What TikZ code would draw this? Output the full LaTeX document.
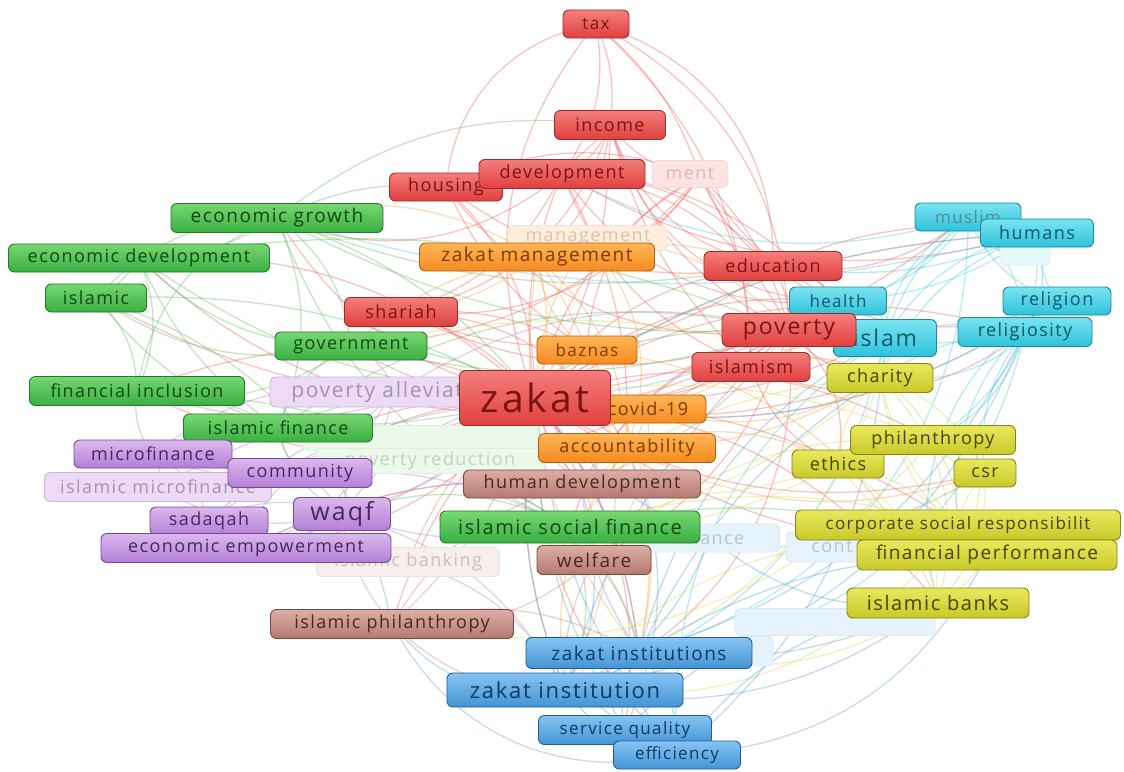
\documentclass[tikz,border=0pt]{standalone}
\usepackage{fontspec}
\setmainfont{Open Sans}[LetterSpace=8]
\definecolor{rT}{HTML}{F47E7C}\definecolor{rB}{HTML}{E0403F}\definecolor{rD}{HTML}{9E2A2A}\definecolor{rX}{HTML}{7A1414}
\definecolor{oT}{HTML}{FFB656}\definecolor{oB}{HTML}{F58A1F}\definecolor{oD}{HTML}{B0600F}\definecolor{oX}{HTML}{7A3A00}
\definecolor{cT}{HTML}{7AE4F2}\definecolor{cB}{HTML}{2EC2DA}\definecolor{cD}{HTML}{1A889E}\definecolor{cX}{HTML}{0E5868}
\definecolor{yT}{HTML}{E8E85E}\definecolor{yB}{HTML}{C9C92A}\definecolor{yD}{HTML}{858510}\definecolor{yX}{HTML}{454500}
\definecolor{gT}{HTML}{76D870}\definecolor{gB}{HTML}{3AAE42}\definecolor{gD}{HTML}{24782A}\definecolor{gX}{HTML}{0E4812}
\definecolor{pT}{HTML}{DCB8EE}\definecolor{pB}{HTML}{B47ED6}\definecolor{pD}{HTML}{784898}\definecolor{pX}{HTML}{46285E}
\definecolor{bT}{HTML}{DCAEA6}\definecolor{bB}{HTML}{B67A6E}\definecolor{bD}{HTML}{784840}\definecolor{bX}{HTML}{4A2822}
\definecolor{lT}{HTML}{86C4F2}\definecolor{lB}{HTML}{4494D4}\definecolor{lD}{HTML}{1E5C94}\definecolor{lX}{HTML}{0E3866}
\definecolor{eR}{HTML}{EE5A5A}\definecolor{eO}{HTML}{F7A040}\definecolor{eC}{HTML}{40C8E0}\definecolor{eY}{HTML}{D8D850}
\definecolor{eG}{HTML}{5AB85A}\definecolor{eP}{HTML}{B080D0}\definecolor{eB}{HTML}{C08878}\definecolor{eL}{HTML}{5A9CD8}
\newcommand\kw[8]{\node[#1, minimum width=#5pt, minimum height=#6pt, font=\fontsize{#7pt}{#7pt}\selectfont] (#2) at (#3,#4) {#8};}
\tikzset{
 kw/.style={rounded corners=6pt, draw, line width=0.9pt, inner sep=0pt, align=center},
 cR/.style={kw, top color=rT, bottom color=rB, draw=rD, text=rX},
 cO/.style={kw, top color=oT, bottom color=oB, draw=oD, text=oX},
 cC/.style={kw, top color=cT, bottom color=cB, draw=cD, text=cX},
 cY/.style={kw, top color=yT, bottom color=yB, draw=yD, text=yX},
 cG/.style={kw, top color=gT, bottom color=gB, draw=gD, text=gX},
 cP/.style={kw, top color=pT, bottom color=pB, draw=pD, text=pX},
 cBr/.style={kw, top color=bT, bottom color=bB, draw=bD, text=bX},
 cL/.style={kw, top color=lT, bottom color=lB, draw=lD, text=lX},
 fR/.style={kw, fill=rT!22, draw=rD!18, text=rX!30},
 fO/.style={kw, fill=oT!22, draw=oD!18, text=oX!30},
 fC/.style={kw, fill=cT!20, draw=cD!15, text=cX!30},
 fG/.style={kw, fill=gT!15, draw=gD!13, text=gX!25},
 fP/.style={kw, fill=pT!50, draw=pD!40, text=pX!50},
 fL/.style={kw, fill=lT!20, draw=lD!15, text=lX!30},
 fBr/.style={kw, fill=bT!20, draw=bD!15, text=bX!30},
 ed/.style={line width=1.3pt, draw opacity=0.36}
}
\begin{document}
\begin{tikzpicture}[x=1pt,y=-1pt]
\path[use as bounding box, fill=white] (0,0) rectangle (1124,771);
\begin{scope}[every node/.style={inner sep=0pt, minimum size=0pt}]
\node (tax) at (596,24) {}; \node (inc) at (610,125) {}; \node (hou) at (446,187) {};
\node (dev) at (562,174) {}; \node (mnt) at (700,176) {}; \node (edu) at (773,266) {};
\node (sha) at (401,312) {}; \node (pov) at (789,330) {}; \node (ism) at (751,367) {};
\node (zak) at (535,398) {}; \node (zm) at (537,257) {}; \node (mgt) at (588,239) {};
\node (baz) at (587,350) {}; \node (cov) at (648,409) {}; \node (acc) at (627,448) {};
\node (mus) at (968,217) {}; \node (hum) at (1037,233) {}; \node (hea) at (838,301) {};
\node (rel) at (1057,301) {}; \node (isl) at (885,338) {}; \node (rly) at (1025,332) {};
\node (cha) at (880,378) {}; \node (phi) at (933,440) {}; \node (eth) at (838,464) {};
\node (csr) at (985,473) {}; \node (crp) at (958,525) {}; \node (fp) at (987,555) {};
\node (ib) at (938,603) {}; \node (eg) at (277,218) {}; \node (edv) at (139,258) {};
\node (ic) at (96,298) {}; \node (gov) at (351,346) {}; \node (fi) at (137,391) {};
\node (ifn) at (278,428) {}; \node (isf) at (570,527) {}; \node (pa) at (395,392) {};
\node (mf) at (153,454) {}; \node (com) at (300,473) {}; \node (imf) at (158,487) {};
\node (sad) at (209,521) {}; \node (waq) at (342,514) {}; \node (ee) at (246,548) {};
\node (hd) at (582,484) {}; \node (wel) at (594,560) {}; \node (iph) at (392,624) {};
\node (zis) at (639,653) {}; \node (zin) at (565,690) {}; \node (sq) at (625,730) {};
\node (eff) at (677,755) {}; \node (prd) at (430,461) {}; \node (ibk) at (408,562) {};
\node (fin) at (710,538) {};
\end{scope}
% ---------- edges ----------
\foreach \a/\b/\c [evaluate=\c as \cc using 1.5*\c] in {tax/inc/10, tax/dev/15, tax/zak/-20, tax/pov/20, tax/edu/25, tax/hou/-25, tax/ism/15, tax/mnt/10,
 inc/zak/10, inc/pov/-15, inc/edu/-20, inc/dev/15, inc/sha/20, inc/ism/-10, inc/hou/20, inc/zm/15, inc/hea/-25,
 dev/zak/-10, dev/pov/20, dev/edu/15, dev/ism/-15, dev/sha/15, dev/eg/20, dev/hea/-20, dev/hum/-15, dev/acc/10,
 hou/zak/15, hou/pov/-20, hou/edu/-15, hou/hea/20, hou/baz/-10,
 edu/zak/-15, edu/pov/10, edu/hea/15, edu/mus/-15, edu/hum/10, edu/rel/-20, edu/sha/20,
 sha/zak/10, sha/pov/-15, sha/acc/20, sha/baz/10,
 pov/zak/15, pov/isl/10, pov/cha/-15, pov/eth/20, pov/wel/15, pov/hd/-15, pov/fi/20, pov/edv/25, pov/isf/-20, pov/zin/25,
 zak/gov/10, zak/fi/-15, zak/ifn/10, zak/mf/15, zak/com/-10, zak/waq/10, zak/sad/-15, zak/ee/15, zak/iph/-10, zak/zis/10,
 zak/zin/-10, zak/sq/15, zak/eff/-15, zak/wel/10, zak/hd/-10, zak/acc/10, zak/cha/-10, zak/phi/15, zak/csr/-15, zak/crp/10,
 zak/fp/-10, zak/ib/15, zak/isl/-10, zak/rly/15, zak/rel/-15, zak/hum/10, zak/mus/-10, zak/eg/15, zak/edv/-15, zak/ic/10, zak/hea/15,
 ism/zak/10, ism/cha/15, ism/eth/-15, ism/isl/10, ism/rly/-20,
 mnt/zak/-15, mnt/pov/10, mnt/edu/-10, mnt/inc/15, mnt/sha/20, mnt/hou/-15, mnt/ism/10, mnt/hea/-10, mnt/zm/20, mnt/baz/-20, mnt/gov/15}
 \draw[ed, draw=eR, bend left=\cc] (\a.center) to (\b.center);
\foreach \a/\b/\c [evaluate=\c as \cc using 1.5*\c] in {zm/zak/10, zm/baz/-15, zm/acc/15, zm/edu/10, zm/gov/-10, zm/zin/20, zm/sha/10, zm/zis/-15,
 mgt/zak/-10, mgt/pov/15, mgt/acc/20, baz/zis/15, baz/zak/10, acc/cha/-10, acc/eth/15, acc/csr/-15, acc/zis/10, acc/zin/-15,
 cov/pov/-10, cov/wel/15, cov/cha/-15, cov/isf/10, acc/hd/15, zm/eg/-15, baz/ib/20}
 \draw[ed, draw=eO, bend left=\cc] (\a.center) to (\b.center);
\foreach \a/\b/\c [evaluate=\c as \cc using 1.5*\c] in {mus/hum/10, mus/rel/-15, mus/rly/15, mus/isl/-10, mus/hea/15, mus/cha/-20, mus/dev/15, mus/zis/25,
 hum/rel/-10, hum/rly/15, hum/isl/-15, hum/hea/10, hum/cha/-15, hum/phi/20, hum/zak/-10, hum/edu/10,
 isl/rly/10, isl/rel/-15, isl/cha/10, isl/zin/20, isl/eff/-20, rly/cha/-10, rly/phi/15, rly/csr/-15, rly/zis/25,
 hea/zak/10, hea/pov/-15, rel/cha/20, rel/crp/-20, rel/zak/15, mus/pov/10, hum/eg/10, rel/ib/-25}
 \draw[ed, draw=eC, bend left=\cc] (\a.center) to (\b.center);
\foreach \a/\b/\c [evaluate=\c as \cc using 1.5*\c] in {cha/phi/10, cha/eth/-15, cha/csr/15, cha/crp/-10, cha/ib/20, cha/fp/-15, cha/zis/15, cha/hd/-10, cha/isf/10,
 phi/csr/-15, phi/crp/10, phi/iph/20, phi/zak/-10, eth/crp/10, eth/fp/-15, eth/ib/15, eth/hd/10, csr/crp/-10, csr/ib/15,
 csr/fp/-15, crp/fp/10, crp/ib/-15, crp/zin/20, crp/isf/-10, fp/ib/10, fp/zin/-20, ib/zis/15, phi/wel/-15, eth/isf/10, cha/gov/-10}
 \draw[ed, draw=eY, bend left=\cc] (\a.center) to (\b.center);
\foreach \a/\b/\c [evaluate=\c as \cc using 1.5*\c] in {eg/edv/10, eg/ic/-15, eg/gov/15, eg/fi/-20, eg/ifn/15, eg/isf/-15, eg/zak/10, eg/pov/-10, eg/inc/15, eg/edu/-10,
 edv/ic/10, edv/gov/-15, edv/fi/15, edv/ifn/-10, edv/pov/10, edv/zak/-10, ic/fi/15, ic/ifn/-10, ic/zak/10, ic/gov/-15,
 gov/zak/10, gov/pov/-10, gov/fi/15, gov/ifn/-15, fi/ifn/10, fi/mf/-15, fi/isf/10, fi/zak/-10, ifn/isf/10, ifn/waq/-15,
 ifn/zak/10, ifn/com/-10, ifn/pov/15, isf/waq/-15, isf/zin/15, isf/wel/-10, isf/fp/10, isf/csr/-15, isf/zis/10, eg/hou/10,
 prd/zak/10, prd/ifn/-10, prd/pov/15, ic/iph/20}
 \draw[ed, draw=eG, bend left=\cc] (\a.center) to (\b.center);
\foreach \a/\b/\c [evaluate=\c as \cc using 1.5*\c] in {pa/mf/-15, pa/imf/15, pa/waq/-10, pa/pov/15, pa/ee/20, mf/imf/15, mf/com/-10, mf/sad/15, mf/zak/-10,
 com/waq/10, com/ee/-15, com/isf/10, com/zak/-10, sad/waq/15, sad/ee/-10, sad/zak/10, waq/ee/10, waq/isf/-10, waq/zak/15,
 waq/zin/15, ee/zak/-10, ee/hd/10, imf/zak/10, imf/waq/-15, pa/hd/10, pa/gov/-15}
 \draw[ed, draw=eP, bend left=\cc] (\a.center) to (\b.center);
\foreach \a/\b/\c [evaluate=\c as \cc using 1.5*\c] in {hd/wel/10, hd/iph/-15, hd/zak/10, hd/ee/-10, wel/iph/15, wel/zin/-10, wel/zis/10, iph/zin/-15, iph/waq/10,
 iph/zak/-10, iph/zis/15, hd/pov/-10, ibk/zak/10, ibk/ee/-15, ibk/zin/15}
 \draw[ed, draw=eB, bend left=\cc] (\a.center) to (\b.center);
\foreach \a/\b/\c [evaluate=\c as \cc using 1.5*\c] in {zis/zin/10, zis/sq/-15, zis/eff/15, zis/ib/-10, zis/fp/10, zis/zak/-10, zis/isl/15, zis/rly/-15, zis/cha/10,
 zin/sq/10, zin/eff/-15, zin/zak/10, zin/ib/-15, zin/pov/10, sq/eff/10, sq/acc/-15, sq/zak/10, eff/ib/15, eff/isl/-15,
 eff/zak/10, zin/rly/-20, sq/ib/15, eff/fp/-20, zis/hd/10, zin/wel/-10, fin/zak/10, fin/ib/-15, fin/zin/15, zin/iph/20, eff/iph/25}
 \draw[ed, draw=eL, bend left=\cc] (\a.center) to (\b.center);
% ---------- faint labels ----------
\kw{fR}{mntb}{690}{174}{76}{27}{18}{ment}
\kw{fO}{mgtb}{588}{238}{158}{25}{18}{management}
\kw{fC}{hshb}{1025}{252}{50}{26}{16}{}
\kw{fG}{fxxb}{420}{438}{236}{25}{16}{}
\kw{fG}{prdb}{430}{461}{230}{25}{18}{poverty reduction}
\kw{fBr}{ibkb}{408}{562}{183}{29}{18}{islamic banking}
\kw{fL}{finb}{710}{538}{140}{28}{18}{finance}
\kw{fL}{cntb}{832}{547}{92}{30}{18}{cont}
\kw{fL}{bx1b}{835}{622}{200}{27}{16}{}
\kw{fL}{bx2b}{755}{651}{36}{30}{16}{}
% ---------- keywords ----------
\kw{cR}{taxb}{596}{24}{66}{28}{17}{tax}
\kw{cR}{incb}{610}{125}{111}{29}{18}{income}
\kw{cR}{houb}{446}{187}{113}{28}{18}{housing}
\kw{cR}{devb}{562}{174}{166}{29}{18}{development}
\kw{cR}{edub}{773}{266}{138}{29}{18}{education}
\kw{cR}{shab}{401}{312}{113}{29}{18}{shariah}
\kw{cO}{zmb}{537}{257}{235}{28}{19}{zakat management}
\kw{cC}{musb}{968}{217}{106}{28}{17}{\textcolor{cX!70}{muslim}}
\kw{cC}{humb}{1037}{233}{113}{28}{18}{humans}
\kw{cC}{heab}{838}{301}{97}{28}{17}{health}
\kw{cC}{relb}{1057}{301}{108}{28}{18}{religion}
\kw{cC}{rlyb}{1025}{332}{134}{29}{18}{religiosity}
\kw{cC}{islb}{885}{338}{103}{37}{23}{islam}
\kw{cR}{povb}{789}{330}{134}{33}{23}{poverty}
\kw{cO}{bazb}{587}{350}{100}{28}{17}{baznas}
\kw{cR}{ismb}{751}{367}{118}{29}{18}{islamism}
\kw{cG}{egb}{277}{218}{212}{29}{19}{economic growth}
\kw{cG}{edvb}{139}{258}{261}{28}{18}{economic development}
\kw{cG}{icb}{96}{298}{101}{28}{18}{islamic}
\kw{cG}{govb}{351}{346}{152}{28}{18}{government}
\kw{cG}{fib}{137}{391}{215}{29}{18}{financial inclusion}
\kw{fP}{pab}{395}{392}{250}{30}{21}{poverty alleviation}
\kw{cO}{covb}{648}{409}{116}{28}{18}{covid-19}
\kw{cR}{zakb}{535}{398}{151}{55}{39}{zakat}
\kw{cY}{chab}{880}{378}{106}{29}{18}{charity}
\kw{cG}{ifnb}{278}{428}{189}{28}{18}{islamic finance}
\kw{cO}{accb}{627}{448}{177}{29}{18}{accountability}
\kw{cY}{ethb}{838}{464}{92}{28}{18}{ethics}
\kw{cY}{phib}{933}{440}{165}{29}{18}{philanthropy}
\kw{cY}{csrb}{985}{473}{62}{28}{18}{csr}
\kw{cP}{mfb}{153}{454}{158}{28}{18}{microfinance}
\kw{fP}{imfb}{158}{487}{227}{29}{18}{islamic microfinance}
\kw{cP}{comb}{300}{473}{144}{29}{18}{community}
\kw{cBr}{hdb}{582}{484}{237}{28}{18}{human development}
\kw{cP}{sadb}{209}{521}{118}{28}{18}{sadaqah}
\kw{cP}{waqb}{342}{514}{97}{33}{25}{waqf}
\kw{cP}{eeb}{246}{548}{290}{29}{18}{economic empowerment}
\kw{cG}{isfb}{570}{527}{260}{32}{20}{islamic social finance}
\kw{cY}{crpb}{958}{525}{325}{30}{17}{corporate social responsibilit}
\kw{cY}{fpb}{987}{555}{260}{30}{19}{financial performance}
\kw{cBr}{welb}{594}{560}{114}{29}{19}{welfare}
\kw{cY}{ibb}{938}{603}{182}{30}{20}{islamic banks}
\kw{cBr}{iphb}{392}{624}{243}{29}{18}{islamic philanthropy}
\kw{cL}{zisb}{639}{653}{226}{31}{19}{zakat institutions}
\kw{cL}{zinb}{565}{690}{236}{34}{22}{zakat institution}
\kw{cL}{sqb}{625}{730}{173}{29}{17}{service quality}
\kw{cL}{effb}{677}{755}{127}{28}{17}{efficiency}
\end{tikzpicture}
\end{document}
